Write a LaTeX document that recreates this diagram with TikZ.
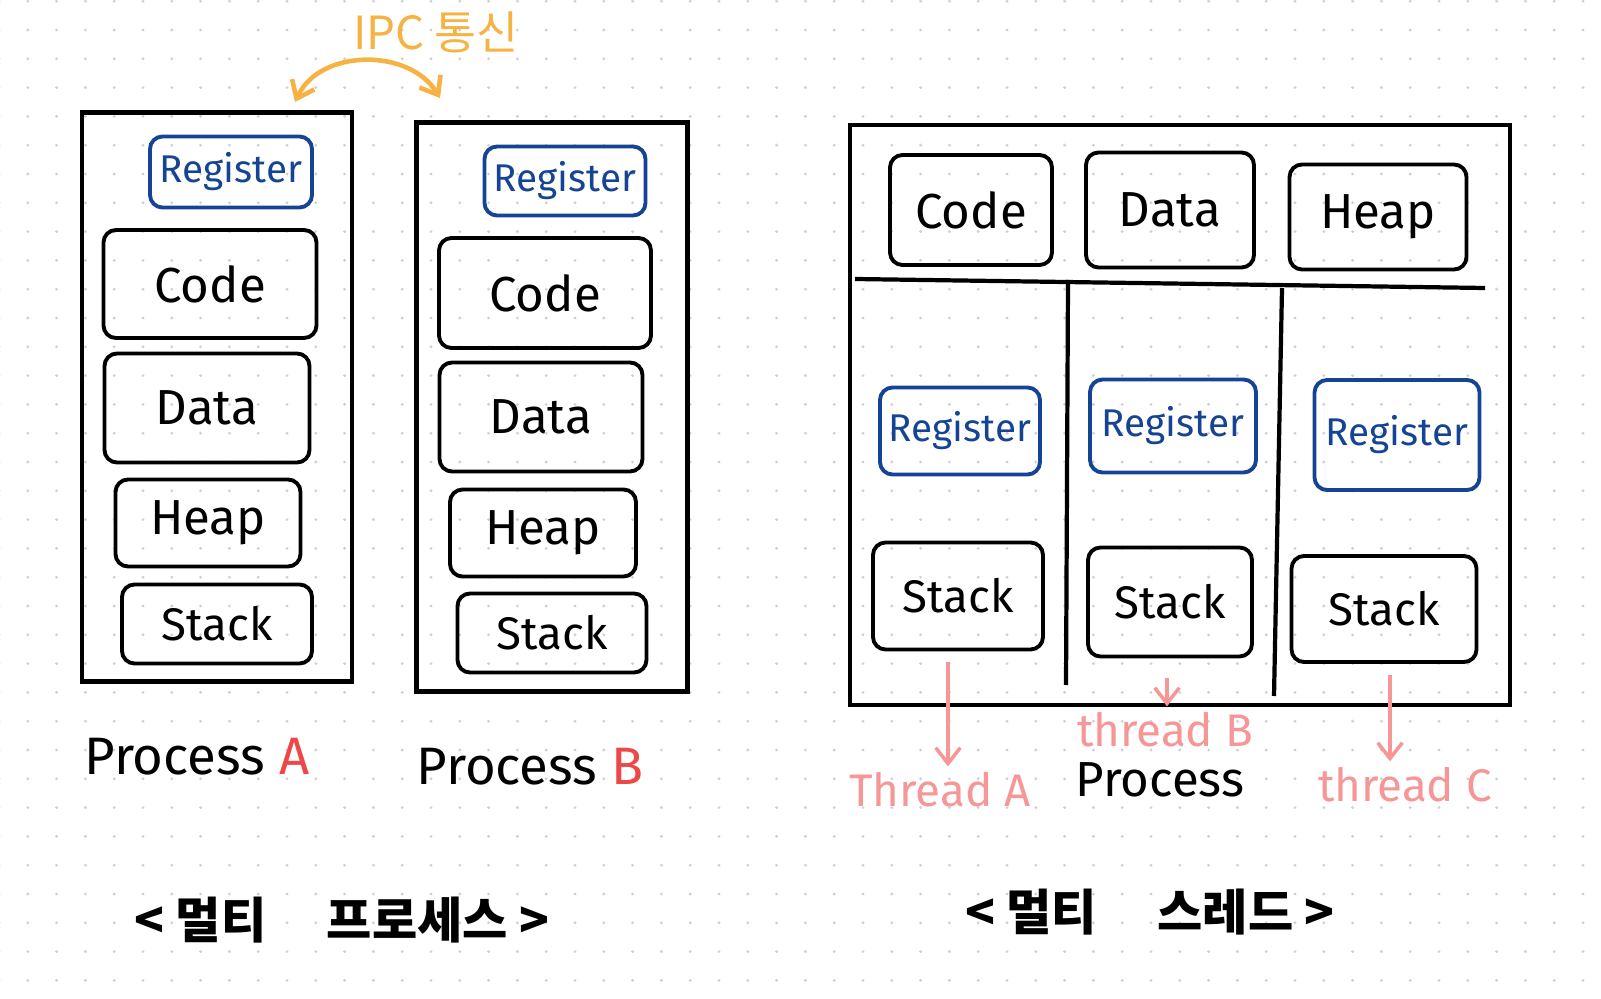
\documentclass[tikz,border=0pt]{standalone}
\usepackage{fontspec}
\setmainfont{Fira Sans}
\newfontfamily\kr{Noto Sans CJK KR}
\usetikzlibrary{arrows.meta,positioning}
\definecolor{regblue}{RGB}{22,68,148}
\definecolor{thrpink}{RGB}{246,150,150}
\definecolor{ipcorange}{RGB}{246,178,66}
\definecolor{procred}{RGB}{236,72,72}
\definecolor{dotgray}{RGB}{208,208,208}
\tikzset{
  >={Straight Barb[length=9pt,width=14pt]},
  wh/.style 2 args={minimum width=#1*0.02cm, minimum height=#2*0.02cm},
  seg/.style={draw, line width=2.2pt, rounded corners=0.25cm, inner sep=0pt,
    font=\fontsize{28}{28}\selectfont},
  regbox/.style={seg, draw=regblue, text=regblue, font=\fontsize{22}{22}\selectfont},
  stackbox/.style={seg, font=\fontsize{26}{26}\selectfont},
  procbox/.style={draw, line width=2.6pt, inner sep=0pt},
  proclabel/.style={font=\fontsize{30}{30}\selectfont},
  thr/.style={text=thrpink, font=\fontsize{26}{26}\selectfont},
  thrarrow/.style={->, draw=thrpink, line width=2pt},
  ipcarrow/.style={<->, draw=ipcorange, line width=2.6pt},
  title/.style={font=\kr\bfseries\fontsize{28}{28}\selectfont},
}

\begin{document}
\begin{tikzpicture}[x=0.02cm, y=-0.02cm]
  \useasboundingbox (0,0) rectangle (1601,999);
  % dot grid
  \foreach \i in {0,...,55}
    \foreach \j in {0,...,34}
      \fill[dotgray] (-1+28.8*\i, 1.2+28.8*\j) circle[radius=0.9pt];

  % Process A
  \node[procbox, wh={270}{569}] (procA) at (217,397) {};
  \node[regbox, wh={162}{71}] (regA) at (231,172) {Register};
  \node[seg, wh={213}{108}] (codeA) at (210,284) {Code};
  \node[seg, wh={205}{109}] (dataA) at (207,408) {Data};
  \node[seg, wh={185}{87}] (heapA) at (208,523) {Heap};
  \node[stackbox, wh={190}{79}] (stackA) at (217,624) {Stack};
  \node[proclabel] (labA) at (197,757) {Process \textcolor{procred}{A}};

  % Process B
  \node[procbox, wh={271}{569}] (procB) at (552,407) {};
  \node[regbox, wh={161}{69}] (regB) at (565,181) {Register};
  \node[seg, wh={212}{110}] (codeB) at (545,293) {Code};
  \node[seg, wh={203}{109}] (dataB) at (541,417) {Data};
  \node[seg, wh={186}{87}] (heapB) at (543,533) {Heap};
  \node[stackbox, wh={189}{79}] (stackB) at (552,633) {Stack};
  \node[proclabel] (labB) at (530,767) {Process \textcolor{procred}{B}};

  % IPC
  \node[font=\kr\fontsize{26}{26}\selectfont, text=ipcorange] (ipc) at (436,32) {IPC 통신};
  \coordinate (ipcL) at (295,102);
  \coordinate (ipcR) at (440,98);
  \draw[ipcarrow] (ipcL) .. controls (320,48) and (410,48) .. (ipcR);

  % Multi thread process
  \node[procbox, wh={660}{580}] (procT) at (1180,415) {};
  \coordinate (hL) at (855,279);
  \coordinate (hR) at (1485,288);
  \coordinate (v1t) at (1068,280);
  \coordinate (v1b) at (1066,685);
  \coordinate (v2t) at (1282,288);
  \coordinate (v2b) at (1274,696);
  \draw[line width=2.4pt] (hL) -- (hR);
  \draw[line width=2.4pt] (v1t) -- (v1b);
  \draw[line width=2.4pt] (v2t) -- (v2b);

  \node[seg, wh={162}{110}] (codeT) at (971,210) {Code};
  \node[seg, wh={168}{115}] (dataT) at (1170,210) {Data};
  \node[seg, wh={177}{105}] (heapT) at (1378,217) {Heap};

  \node[regbox, wh={160}{87}] (reg1) at (960,431) {Register};
  \node[regbox, wh={166}{93}] (reg2) at (1173,426) {Register};
  \node[regbox, wh={165}{110}] (reg3) at (1397,435) {Register};

  \node[stackbox, wh={170}{107}] (stack1) at (958,596) {Stack};
  \node[stackbox, wh={164}{109}] (stack2) at (1170,602) {Stack};
  \node[stackbox, wh={185}{106}] (stack3) at (1384,609) {Stack};

  % Threads
  \node[thr] (thA) at (940,790) {Thread A};
  \node[thr] (thB) at (1165,730) {thread B};
  \node[thr] (thC) at (1405,785) {thread C};
  \node[proclabel, font=\fontsize{28}{28}\selectfont] (labT) at (1160,780) {Process};
  \coordinate (aA) at (948,662);
  \coordinate (aB) at (1167,678);
  \coordinate (aC) at (1390,675);
  \draw[thrarrow] (aA) -- (aA |- thA.north);
  \draw[thrarrow] (aB) -- (aB |- thB.north);
  \draw[thrarrow] (aC) -- (aC |- thC.north);

  % Titles
  \node[title] (titP) at (342,920) {< 멀티 \quad 프로세스 >};
  \node[title] (titT) at (1150,912) {< 멀티 \quad 스레드 >};
\end{tikzpicture}
\end{document}
